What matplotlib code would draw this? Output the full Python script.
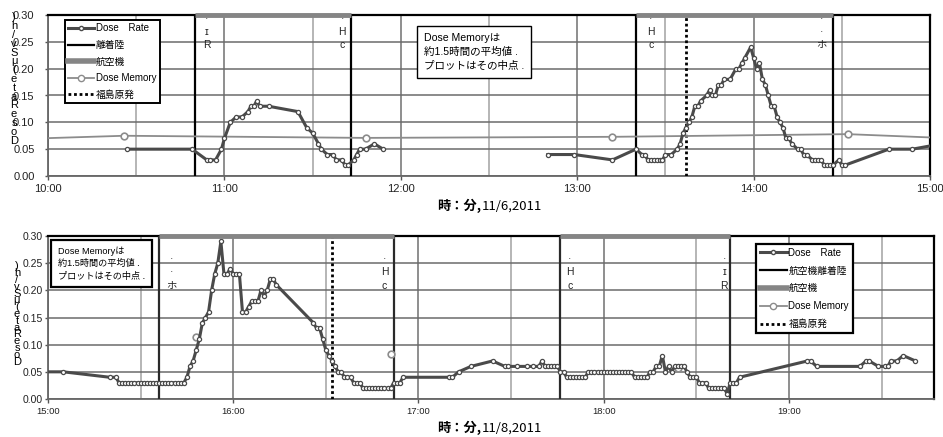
import numpy as np
import matplotlib
matplotlib.use('Agg')
import matplotlib.pyplot as plt
from matplotlib.lines import Line2D
from matplotlib.ticker import FixedLocator, MultipleLocator, FuncFormatter

plt.rcParams['font.family'] = ['Liberation Sans', 'Noto Sans CJK JP', 'DejaVu Sans']

# ---------------- 11/6/2011 ----------------
top_rate_time = [
    "10:27", "10:49", "10:54", "10:55", "10:57", "10:59", "11:00", "11:02", "11:04", "11:06",
    "11:08", "11:09", "11:10", "11:11", "11:12", "11:15", "11:25", "11:28", "11:30", "11:32",
    "11:33", "11:35", "11:37", "11:38", "11:40", "11:41", "11:42", "11:44", "11:45", "11:46",
    "11:48", "11:51", "11:54",
    "12:20",  # no data
    "12:50", "12:59", "13:12", "13:20", "13:22", "13:23", "13:24", "13:25", "13:26", "13:27",
    "13:28", "13:29", "13:30", "13:32", "13:34", "13:35", "13:36", "13:37", "13:38", "13:39",
    "13:40", "13:41", "13:42", "13:44", "13:45", "13:46", "13:47", "13:48", "13:49", "13:50",
    "13:52", "13:54", "13:55", "13:56", "13:57", "13:59", "14:00", "14:01", "14:02", "14:03",
    "14:04", "14:05", "14:06", "14:07", "14:08", "14:09", "14:10", "14:11", "14:12", "14:13",
    "14:15", "14:16", "14:17", "14:18", "14:20", "14:21", "14:22", "14:23", "14:24", "14:25",
    "14:26", "14:27", "14:29", "14:30", "14:31", "14:46", "14:54", "15:04",
]
top_rate = [
    0.05, 0.05, 0.03, 0.03, 0.03, 0.05, 0.07, 0.10, 0.11, 0.11,
    0.12, 0.13, 0.13, 0.14, 0.13, 0.13, 0.12, 0.09, 0.08, 0.06,
    0.05, 0.04, 0.04, 0.03, 0.03, 0.02, 0.02, 0.03, 0.04, 0.05,
    0.05, 0.06, 0.05,
    np.nan,
    0.04, 0.04, 0.03, 0.05, 0.04, 0.04, 0.03, 0.03, 0.03, 0.03,
    0.03, 0.03, 0.04, 0.04, 0.05, 0.06, 0.08, 0.09, 0.10, 0.11,
    0.13, 0.13, 0.14, 0.15, 0.16, 0.15, 0.15, 0.17, 0.17, 0.18,
    0.18, 0.20, 0.20, 0.21, 0.22, 0.24, 0.22, 0.20, 0.21, 0.18,
    0.17, 0.15, 0.13, 0.13, 0.11, 0.10, 0.09, 0.07, 0.07, 0.06,
    0.05, 0.05, 0.04, 0.04, 0.03, 0.03, 0.03, 0.03, 0.02, 0.02,
    0.02, 0.02, 0.03, 0.02, 0.02, 0.05, 0.05, 0.06,
]
top_memory_time = ["09:04", "10:26", "11:48", "13:12", "14:32", "15:54"]
top_memory = [0.061, 0.075, 0.071, 0.073, 0.078, 0.060]
top_landing = ["10:50", "11:43", "13:20", "14:27"]
top_plane_start = ["10:50", "13:20"]
top_plane_end = ["11:43", "14:27"]
top_fukushima = "13:37"
top_marks = [("10:54", "·\nɪ\nR"), ("11:40", "·\nH\nc"), ("13:25", "·\nH\nc"), ("14:23", "·\n·\nホ")]

# ---------------- 11/8/2011 ----------------
bottom_rate_time = [
    "14:58", "15:05", "15:20", "15:22",
    "15:23", "15:24", "15:25", "15:26", "15:27", "15:28", "15:29", "15:30", "15:31", "15:32", "15:33",
    "15:34", "15:35", "15:36", "15:37", "15:38", "15:39", "15:40", "15:41", "15:42", "15:43", "15:44",
    "15:45", "15:46", "15:47", "15:48", "15:49", "15:50", "15:51", "15:52", "15:53", "15:54",
    "15:55", "15:56", "15:57", "15:58", "15:59", "16:00", "16:01", "16:02", "16:03", "16:04",
    "16:05", "16:06", "16:07", "16:08", "16:09", "16:10", "16:11", "16:12", "16:13", "16:14",
    "16:26", "16:27", "16:28", "16:29", "16:30", "16:31", "16:32", "16:33", "16:34", "16:35",
    "16:36", "16:37", "16:38", "16:39", "16:40", "16:41", "16:42", "16:43", "16:44", "16:45",
    "16:46", "16:47", "16:48", "16:49", "16:50", "16:51", "16:52", "16:53", "16:54", "16:55",
    "17:10", "17:11", "17:13", "17:17", "17:24", "17:28", "17:29", "17:32", "17:35", "17:37",
    "17:39", "17:40", "17:41", "17:42", "17:43", "17:44", "17:45", "17:46", "17:47", "17:48",
    "17:49", "17:50", "17:51", "17:52", "17:53", "17:54", "17:55", "17:56", "17:57", "17:58",
    "17:59", "18:00", "18:01", "18:02", "18:03", "18:04", "18:05", "18:06", "18:07", "18:08",
    "18:09", "18:10", "18:11", "18:12", "18:13", "18:14", "18:15", "18:16", "18:17", "18:18",
    "18:19", "18:20", "18:21", "18:22", "18:23", "18:24", "18:25", "18:26", "18:27", "18:28",
    "18:29", "18:30", "18:31", "18:32", "18:33", "18:34", "18:35", "18:36", "18:37", "18:38",
    "18:39", "18:40", "18:41", "18:42", "18:43", "18:44", "19:06", "19:07", "19:09", "19:23",
    "19:25", "19:26", "19:29", "19:31", "19:32", "19:33", "19:35", "19:37", "19:41",
]
bottom_rate = [
    0.05, 0.05, 0.04, 0.04,
    0.03, 0.03, 0.03, 0.03, 0.03, 0.03, 0.03, 0.03, 0.03, 0.03, 0.03,
    0.03, 0.03, 0.03, 0.03, 0.03, 0.03, 0.03, 0.03, 0.03, 0.03, 0.03,
    0.04, 0.06, 0.07, 0.09, 0.11, 0.14, 0.15, 0.16, 0.20, 0.23,
    0.25, 0.29, 0.23, 0.23, 0.24, 0.23, 0.23, 0.23, 0.16, 0.16,
    0.17, 0.18, 0.18, 0.18, 0.20, 0.19, 0.20, 0.22, 0.22, 0.21,
    0.14, 0.13, 0.13, 0.11, 0.09, 0.08, 0.07, 0.06, 0.05, 0.05,
    0.04, 0.04, 0.04, 0.03, 0.03, 0.03, 0.02, 0.02, 0.02, 0.02,
    0.02, 0.02, 0.02, 0.02, 0.02, 0.02, 0.03, 0.03, 0.03, 0.04,
    0.04, 0.04, 0.05, 0.06, 0.07, 0.06, 0.06, 0.06, 0.06, 0.06,
    0.06, 0.07, 0.06, 0.06, 0.06, 0.06, 0.06, 0.05, 0.05, 0.04,
    0.04, 0.04, 0.04, 0.04, 0.04, 0.04, 0.05, 0.05, 0.05, 0.05,
    0.05, 0.05, 0.05, 0.05, 0.05, 0.05, 0.05, 0.05, 0.05, 0.05,
    0.05, 0.04, 0.04, 0.04, 0.04, 0.04, 0.05, 0.05, 0.06, 0.06,
    0.08, 0.05, 0.06, 0.05, 0.06, 0.06, 0.06, 0.06, 0.05, 0.04,
    0.04, 0.04, 0.03, 0.03, 0.03, 0.02, 0.02, 0.02, 0.02, 0.02,
    0.02, 0.01, 0.03, 0.03, 0.03, 0.04, 0.07, 0.07, 0.06, 0.06,
    0.07, 0.07, 0.06, 0.06, 0.06, 0.07, 0.07, 0.08, 0.07,
]
bottom_memory_time = ["15:48", "16:51", "18:24"]
bottom_memory = [0.115, 0.082, 0.057]
bottom_landing = ["15:36", "16:52", "17:46", "18:41"]
bottom_plane_start = ["15:36", "17:46"]
bottom_plane_end = ["16:52", "18:41"]
bottom_fukushima = "16:32"
bottom_marks = [("15:40", "·\n·\nホ"), ("16:49", "·\nH\nc"), ("17:49", "·\nH\nc"), ("18:39", "·\nɪ\nR")]

memo_text = "Dose Memoryは\n約1.5時間の平均値 .\nプロットはその中点 ."
ylabel_text = "DoseRate(μSv/h)"

# colors
rate_c = '#4a4a4a'
mem_c = '#8c8c8c'
plane_c = '#858585'


def hm(s):
    h, m = s.split(':')
    return int(h) + int(m) / 60.0


def hm_list(lst):
    return [hm(s) for s in lst]


def fmt_time(x, pos):
    t = int(round(x * 60))
    return '%d:%02d' % (t // 60, t % 60)


def draw_panel(ax, rate_t, rate_v, mem_t, mem_v, mem_ls, landing, p_start, p_end, fuku, marks,
               x0, x1, land_c, xsize, ysize, ypad, mark_y):
    ax.set_xlim(hm(x0), hm(x1))
    ax.set_ylim(0, 0.30)

    # grid: horizontal dark, vertical hour/half-hour
    ax.yaxis.set_major_locator(MultipleLocator(0.05))
    ax.yaxis.set_major_formatter(FuncFormatter(lambda y, p: '%.2f' % y))
    ax.xaxis.set_major_locator(FixedLocator(range(int(hm(x0)), int(hm(x1)) + 1)))
    ax.xaxis.set_minor_locator(MultipleLocator(0.5))
    ax.xaxis.set_major_formatter(FuncFormatter(fmt_time))
    ax.yaxis.grid(True, color='#6b6b6b', lw=1.1)
    ax.xaxis.grid(True, which='major', color='#7c7c7c', lw=1.2)
    ax.xaxis.grid(True, which='minor', color='#a9a9a9', lw=1.2)
    ax.set_axisbelow(True)

    ax.tick_params(axis='x', which='major', length=3, width=1, color='#555555', pad=2.5,
                   labelsize=xsize, labelcolor='#222222')
    ax.tick_params(axis='x', which='minor', length=0)
    ax.tick_params(axis='y', length=2.2, width=1, color='#555555', pad=ypad,
                   labelsize=ysize, labelcolor='#222222')

    for s in ['left', 'bottom']:
        ax.spines[s].set_color('#666666')
        ax.spines[s].set_linewidth(1.3)
    for s in ['top', 'right']:
        ax.spines[s].set_color('black')
        ax.spines[s].set_linewidth(1.6)

    # take-off / landing
    for t in landing:
        ax.axvline(hm(t), color=land_c, lw=1.6, zorder=3)
    # aircraft period drawn on the top edge
    ax.hlines([0.30] * len(p_start), hm_list(p_start), hm_list(p_end), color=plane_c, lw=3.5,
              zorder=6, clip_on=False)
    # Fukushima NPP
    ax.axvline(hm(fuku), color='black', ls=(0, (1, 1)), lw=2, zorder=3)

    ax.plot(hm_list(mem_t), mem_v, color=mem_c, lw=1.3, ls=mem_ls, marker='o', ms=4.8,
            mfc='white', mec=mem_c, mew=1.2, zorder=4)
    ax.plot(hm_list(rate_t), rate_v, color=rate_c, lw=2.2, marker='o', ms=3.0,
            mfc='white', mec=rate_c, mew=0.9, zorder=5)

    for t, s in marks:
        ax.text(hm(t), mark_y, s, ha='center', va='center',
                fontsize=7.5, linespacing=1.4, color='#222222', zorder=7)


fig = plt.figure(figsize=(9.43, 4.37), dpi=100)
ax1 = fig.add_axes([48 / 943, 1 - 176 / 437, 882 / 943, 161 / 437])
ax2 = fig.add_axes([48 / 943, 1 - 399 / 437, 886 / 943, 163 / 437])

draw_panel(ax1, top_rate_time, top_rate, top_memory_time, top_memory, '-', top_landing,
           top_plane_start, top_plane_end, top_fukushima, top_marks, "10:00", "15:00",
           'black', 8, 8, 7.5, 0.268)
draw_panel(ax2, bottom_rate_time, bottom_rate, bottom_memory_time, bottom_memory, 'none',
           bottom_landing, bottom_plane_start, bottom_plane_end, bottom_fukushima, bottom_marks,
           "15:00", "19:47", '#2a2a2a', 6.8, 7.5, 1.5, 0.233)

# legends
handles = [
    Line2D([], [], color=rate_c, lw=2.2, marker='o', ms=3, mfc='white', mec=rate_c),
    Line2D([], [], color='black', lw=1.6),
    Line2D([], [], color=plane_c, lw=4),
    Line2D([], [], color=mem_c, lw=1.3, marker='o', ms=4.5, mfc='white', mec=mem_c),
    Line2D([], [], color='black', lw=2, ls=(0, (1, 1))),
]
labels_top = ["Dose\u3000Rate", "離着陸", "航空機", "Dose Memory", "福島原発"]
labels_bottom = ["Dose\u3000Rate", "航空機離着陸", "航空機", "Dose Memory", "福島原発"]

leg1 = ax1.legend(handles, labels_top, loc='upper left', bbox_to_anchor=(0.019, 0.969),
                  borderaxespad=0, fontsize=7, handlelength=2.7, handletextpad=0.15,
                  labelspacing=0.68, borderpad=0.35, fancybox=False, framealpha=1,
                  edgecolor='black')
leg1.get_frame().set_linewidth(1.4)
leg2 = ax2.legend(handles, labels_bottom, loc='upper left', bbox_to_anchor=(0.799, 0.951),
                  borderaxespad=0, fontsize=7, handlelength=2.8, handletextpad=0.15,
                  labelspacing=0.8, borderpad=0.4, fancybox=False, framealpha=1,
                  edgecolor='black')
leg2.get_frame().set_linewidth(1.6)

# note boxes
ax1.text(0.426, 0.891, memo_text, transform=ax1.transAxes, ha='left', va='top', fontsize=7.6,
         linespacing=1.5, zorder=8,
         bbox=dict(boxstyle='square,pad=0.65', fc='white', ec='black', lw=1.0))
ax2.text(0.0115, 0.935, memo_text, transform=ax2.transAxes, ha='left', va='top', fontsize=6.6,
         linespacing=1.45, zorder=8,
         bbox=dict(boxstyle='square,pad=0.75', fc='white', ec='black', lw=1.6))

# broken vertical y label (stacked characters)
stack = "\n".join(reversed(list(ylabel_text)))
fig.text(14 / 943, 1 - 79 / 437, stack, ha='center', va='center', fontsize=8, linespacing=0.85)
fig.text(17 / 943, 1 - 314 / 437, stack, ha='center', va='center', fontsize=8, linespacing=0.6)

# x labels
for yy, date in [(206, "11/6,2011"), (428, "11/8,2011")]:
    fig.text(481 / 943, 1 - yy / 437, "時：分,", ha='right', va='center', fontsize=9.5,
             fontweight='bold', family=['Noto Sans CJK JP'])
    fig.text(482 / 943, 1 - yy / 437, date, ha='left', va='center', fontsize=9.5,
             family=['Noto Sans CJK JP'])

fig.savefig('out.png', dpi=100)
